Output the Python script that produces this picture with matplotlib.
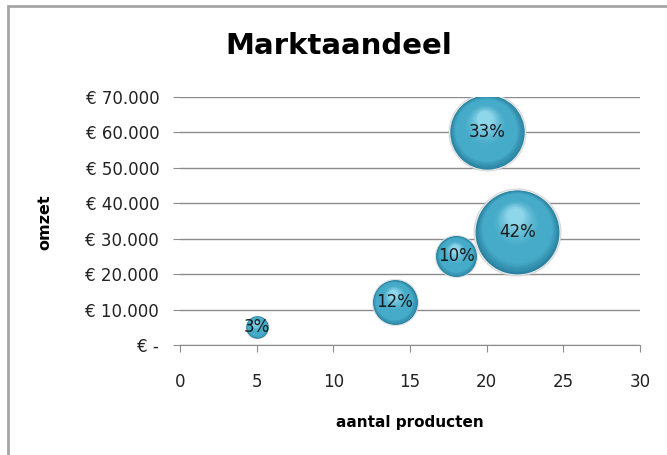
import numpy as np
import matplotlib.pyplot as plt
from matplotlib.patches import Rectangle
from matplotlib.transforms import offset_copy
from matplotlib.ticker import FuncFormatter
from matplotlib.colors import to_rgb

# Marktaandeel bubble chart
aantal = [5, 14, 18, 22, 20]
omzet = [5000, 12000, 25000, 32000, 60000]
aandeel = [3, 12, 10, 42, 33]
labels = ['3%', '12%', '10%', '42%', '33%']

fig = plt.figure(figsize=(6.67, 4.55), dpi=100)
fig.patches.append(Rectangle((8 / 667, -0.1), 1.2, 1 - 6 / 455 + 0.1, transform=fig.transFigure,
                             fill=False, edgecolor='#a6a6a6', linewidth=2, figure=fig))

ax = fig.add_axes([180 / 667, 1 - 345 / 455, 460 / 667, 248 / 455])
ax.set_xlim(0, 30)
ax.set_ylim(0, 70000)
ax.set_xticks(range(0, 31, 5))
ax.set_yticks(range(0, 70001, 10000))

def euro(v, pos):
    if v == 0:
        return '€ -'
    return '€ ' + '{:,.0f}'.format(v).replace(',', '.')

ax.yaxis.set_major_formatter(FuncFormatter(euro))
ax.grid(axis='y', color='#8c8c8c', linewidth=1)
ax.set_axisbelow(True)
for s in ['top', 'right', 'left']:
    ax.spines[s].set_visible(False)
ax.spines['bottom'].set_color('#8c8c8c')
ax.tick_params(axis='y', length=5, color='#8c8c8c', pad=10, labelsize=12, labelcolor='#222222')
ax.tick_params(axis='x', length=5, color='#8c8c8c', pad=15, labelsize=12, labelcolor='#222222')

dark = np.array(to_rgb('#2a82a0'))
mid = np.array(to_rgb('#45abc8'))
light = np.array(to_rgb('#8ed6ea'))

k = 87.0  # points^2 per percent
for x, y, a, lab in zip(aantal, omzet, aandeel, labels):
    s = k * a
    r = np.sqrt(s) / 2
    # soft halo
    ax.scatter([x], [y], s=s * 1.1, color='#cfcfcf', alpha=0.8, zorder=3, linewidths=0)
    ax.scatter([x], [y], s=s * 1.04, color='#f4f4f4', zorder=3, linewidths=0)
    n = 30
    for i in range(n):
        t = i / (n - 1)
        rr = r * (1 - 0.8 * t)
        if t < 0.2:
            c = dark + (mid - dark) * (t / 0.2)
        elif t < 0.5:
            c = mid
        else:
            c = mid + (light - mid) * ((t - 0.5) / 0.5) ** 1.5
        tr = offset_copy(ax.transData, fig=fig, x=-0.06 * r * t, y=0.38 * r * t, units='points')
        ax.scatter([x], [y], s=(2 * rr) ** 2, color=c, zorder=4, linewidths=0, transform=tr)
    ax.text(x, y, lab, ha='center', va='center', fontsize=12, color='#1a1a1a', zorder=5)

fig.text(339 / 667, 1 - 46 / 455, 'Marktaandeel', ha='center', va='center',
         fontsize=21, fontweight='bold', color='black')
fig.text(410 / 667, 1 - 423 / 455, 'aantal producten', ha='center', va='center',
         fontsize=11, fontweight='bold', color='black')
fig.text(45 / 667, 1 - 222 / 455, 'omzet', ha='center', va='center', rotation=90,
         fontsize=11.5, fontweight='bold', color='black')

fig.savefig('out.png', dpi=100)
